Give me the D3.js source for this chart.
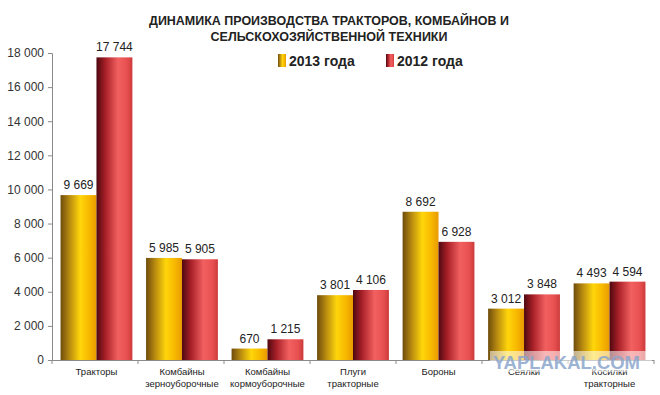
<!DOCTYPE html>
<html><head><meta charset="utf-8">
<script src="https://cdn.jsdelivr.net/npm/d3@7"></script>
<style>body{margin:0;background:#fff}svg{display:block}</style>
</head><body>
<svg id="c" width="660" height="395"></svg>
<script>
const categories = [["Тракторы"],["Комбайны","зерноуборочные"],["Комбайны","кормоуборочные"],["Плуги","тракторные"],["Бороны"],["Сеялки"],["Косилки","тракторные"]];
const series2013 = [9669, 5985, 670, 3801, 8692, 3012, 4493];
const series2012 = [17744, 5905, 1215, 4106, 6928, 3848, 4594];
const seriesNames = ["2013 года", "2012 года"];
const yTicks = [0, 2000, 4000, 6000, 8000, 10000, 12000, 14000, 16000, 18000];

const svg = d3.select("#c");
const defs = svg.append("defs");
function grad(id, stops){
  const g = defs.append("linearGradient").attr("id", id).attr("x1","0%").attr("x2","100%").attr("y1","0%").attr("y2","0%");
  stops.forEach(s=>g.append("stop").attr("offset",s[0]).attr("stop-color",s[1]));
}
grad("g13", [["0%","#6e4c0c"],["25%","#b88a10"],["55%","#ffd60a"],["80%","#f7b800"],["100%","#e89a00"]]);
grad("g12", [["0%","#4e0810"],["25%","#a82028"],["60%","#f26060"],["85%","#e85050"],["100%","#cc3a3a"]]);

const x0 = 52, x1 = 654, yTop = 53, yBot = 360;
const x = d3.scaleBand().domain(d3.range(categories.length)).range([x0, x1]).paddingInner(0.16).paddingOuter(0.1);
const xs = d3.scaleBand().domain([0,1]).range([0, x.bandwidth()]);
const y = d3.scaleLinear().domain([0, 18000]).range([yBot, yTop]);
const fmt = v => d3.format(",")(v).replace(/,/g, " ");
const font = "'Liberation Sans', Arial, sans-serif";

// Title
svg.append("text").attr("x", 329).attr("y", 25).attr("text-anchor","middle")
  .style("font-family", font).style("font-weight","bold").style("font-size","12.5px").attr("fill","#222")
  .attr("textLength", 360).attr("lengthAdjust","spacingAndGlyphs")
  .text("ДИНАМИКА ПРОИЗВОДСТВА ТРАКТОРОВ, КОМБАЙНОВ И");
svg.append("text").attr("x", 329).attr("y", 41).attr("text-anchor","middle")
  .style("font-family", font).style("font-weight","bold").style("font-size","12.5px").attr("fill","#222")
  .attr("textLength", 237).attr("lengthAdjust","spacingAndGlyphs")
  .text("СЕЛЬСКОХОЗЯЙСТВЕННОЙ ТЕХНИКИ");

// Y axis
const yAxis = d3.axisLeft(y).tickValues(yTicks).tickFormat(fmt).tickSize(4).tickPadding(4);
const ya = svg.append("g").attr("transform", `translate(${x0},0)`).call(yAxis);
ya.select(".domain").attr("stroke","#8a8a8a");
ya.selectAll(".tick line").attr("stroke","#8a8a8a");
ya.selectAll("text").style("font-family", font).style("font-size","12px").attr("fill","#333");

// Bars
const data = categories.map((c,i)=>({i, vals:[series2013[i], series2012[i]]}));
const gcat = svg.append("g").selectAll("g").data(data).join("g").attr("transform", d=>`translate(${x(d.i)},0)`);
gcat.selectAll("rect").data(d=>d.vals.map((v,k)=>({v,k}))).join("rect")
  .attr("x", d=>xs(d.k)).attr("width", xs.bandwidth())
  .attr("y", d=>y(d.v)).attr("height", d=>y(0)-y(d.v))
  .attr("fill", d=> d.k===0 ? "url(#g13)" : "url(#g12)");
gcat.selectAll("text.val").data(d=>d.vals.map((v,k)=>({v,k}))).join("text").attr("class","val")
  .attr("x", d=>xs(d.k)+xs.bandwidth()/2).attr("y", d=>y(d.v)-6).attr("text-anchor","middle")
  .style("font-family", font).style("font-size","12px").attr("fill","#222").text(d=>fmt(d.v));

// X axis
svg.append("line").attr("x1", x0).attr("x2", x1).attr("y1", yBot+0.5).attr("y2", yBot+0.5).attr("stroke","#8a8a8a");
const bounds = d3.range(categories.length+1).map(i => x0 + i*(x1-x0)/categories.length);
svg.append("g").selectAll("line").data(bounds).join("line")
  .attr("x1", d=>d).attr("x2", d=>d).attr("y1", yBot).attr("y2", yBot+4).attr("stroke","#8a8a8a");
const lab = svg.append("g").selectAll("text").data(categories).join("text")
  .attr("text-anchor","middle").attr("transform",(d,i)=>`translate(${x(i)+x.bandwidth()/2},0)`)
  .style("font-family", font).style("font-size","9.5px").attr("fill","#222");
lab.selectAll("tspan").data(d=>d).join("tspan").attr("x",0).attr("y",(d,j)=>375+j*12).text(d=>d);

// Legend
const leg = [[278, seriesNames[0], "url(#g13)"], [386, seriesNames[1], "url(#g12)"]];
leg.forEach(l=>{
  svg.append("rect").attr("x", l[0]).attr("y", 54).attr("width", 8).attr("height", 13).attr("fill", l[2]);
  svg.append("text").attr("x", l[0]+11).attr("y", 66).style("font-family", font).style("font-weight","bold")
    .style("font-size","14px").attr("fill","#222").text(l[1]);
});

// Watermark overlay
svg.append("rect").attr("x", 490).attr("y", 351).attr("width", 162).attr("height", 21).attr("fill","#ffffff").attr("opacity",0.55);
svg.append("text").attr("x", 493).attr("y", 369)
  .style("font-family", font).style("font-weight","bold").style("font-size","19px")
  .attr("textLength", 147).attr("lengthAdjust","spacingAndGlyphs")
  .attr("fill","#8ca6cc").attr("opacity",0.85).text("YAPLAKAL.COM");
</script>
</body></html>
